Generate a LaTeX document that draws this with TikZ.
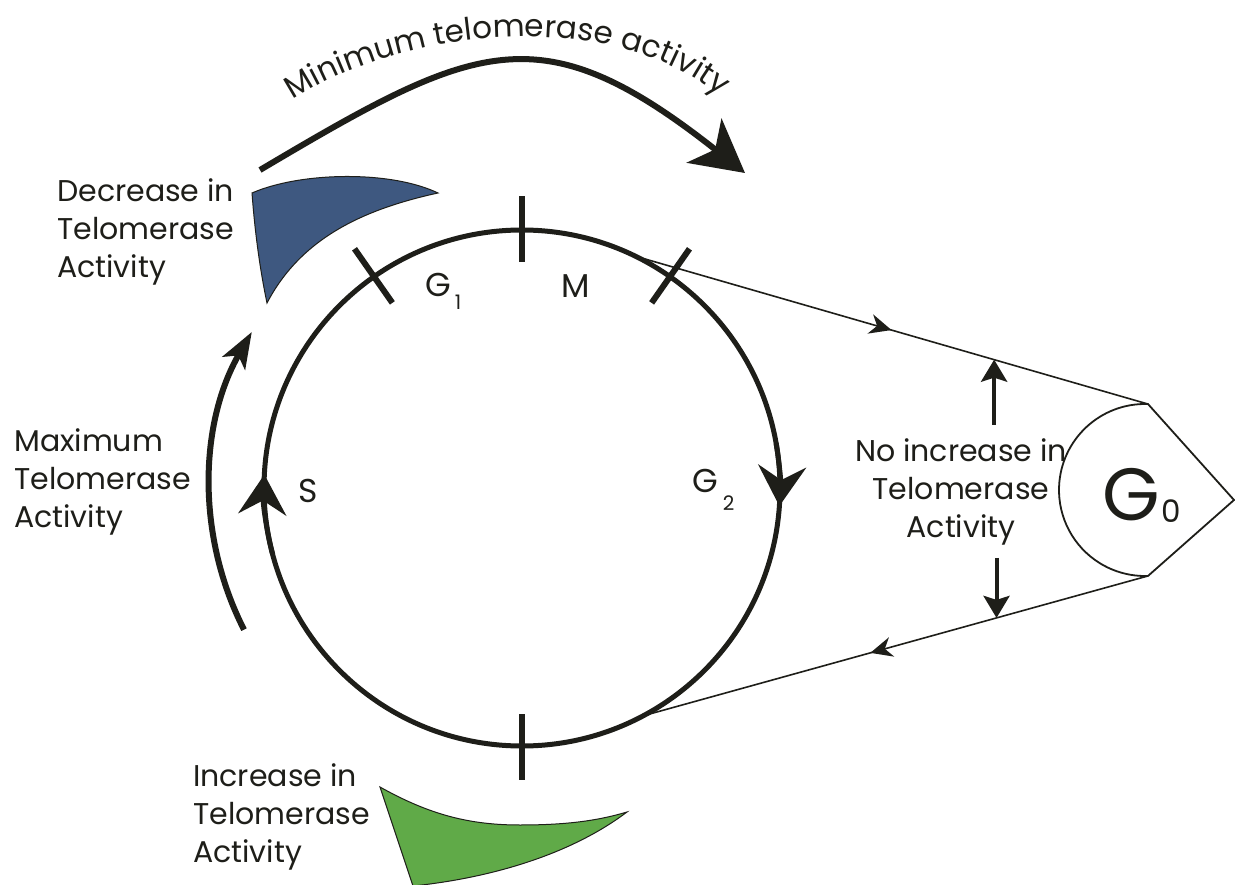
\documentclass[tikz,border=0pt]{standalone}
\usepackage{fontspec}
\setmainfont{Poppins}
\usetikzlibrary{arrows.meta,calc,decorations.markings,decorations.text}
\definecolor{decblue}{RGB}{62,88,128}
\definecolor{incgreen}{RGB}{96,170,72}
\definecolor{ink}{RGB}{30,30,25}
\begin{document}
\begin{tikzpicture}[x=1pt,y=1pt,
  cycleline/.style={line width=5pt, draw=ink},
  tickline/.style={line width=6pt, draw=ink},
  bigarrow/.style={line width=6pt, draw=ink},
  thinline/.style={line width=1.6pt, draw=ink},
  lbl/.style={font=\fontsize{30}{38}\selectfont, align=left, inner sep=0pt, text=ink},
  phase/.style={font=\fontsize{33}{36}\selectfont, inner sep=0pt, text=ink},
  midarrow/.style={decoration={markings, mark=at position #1 with {\arrow{Stealth[length=22pt,width=20pt,inset=7pt]}}}, postaction={decorate}},
]
\useasboundingbox (0,0) rectangle (1235,-885);
\fill[white] (0,0) rectangle (1235,-885);

% cell cycle
\node[circle, cycleline, minimum size=516pt, inner sep=0pt, outer sep=0pt] (cyc) at (522,-488) {};
\foreach \a in {125,90,55,270}
  \draw[tickline] ($(cyc.center)+(\a:226pt)$) -- ($(cyc.center)+(\a:292pt)$);
\draw[cycleline, -{Stealth[length=40pt,width=48pt,inset=14pt]}]
  ($(cyc.center)+(195:258pt)$) arc[start angle=195, end angle=177, radius=258pt];
\draw[cycleline, -{Stealth[length=40pt,width=48pt,inset=14pt]}]
  ($(cyc.center)+(10:258pt)$) arc[start angle=10, end angle=-4, radius=258pt];

% outer arrows
\coordinate (maxS) at ($(cyc.center)+(207:312pt)$);
\draw[bigarrow, -{Stealth[length=36pt,width=26pt,inset=9pt]}]
  (maxS) arc[start angle=207, end angle=150, radius=312pt];
\coordinate (minS) at (260,-170);
\coordinate (minE) at (745,-173);
\draw[bigarrow, -{Stealth[length=52pt,width=56pt,inset=14pt]}]
  (minS) .. controls (476,-42) and (540,-11) .. (minE);
\path[decorate, decoration={text along path, text align=center,
  text={|\fontsize{31}{36}\selectfont\color{ink}|Minimum telomerase activity}}]
  (288,-103) .. controls (390,-32) and (610,0) .. (724,-100);

% activity shapes
\draw[fill=decblue, draw=ink, line width=1pt]
  (252,-193) .. controls (300,-172) and (390,-170) .. (438,-193)
  .. controls (360,-210) and (300,-240) .. (267,-303)
  .. controls (258,-260) and (254,-220) .. cycle;
\draw[fill=incgreen, draw=ink, line width=1pt]
  (380,-787) .. controls (430,-815) and (470,-825) .. (520,-825)
  .. controls (570,-825) and (600,-820) .. (627,-812)
  .. controls (570,-855) and (490,-878) .. (413,-886) -- cycle;

% G0
\coordinate (g0c) at (1145,-490);
\draw[thinline, line width=1.8pt] ($(g0c)+(88:86pt)$) coordinate (g0top)
  arc[start angle=88, end angle=272, radius=86pt] coordinate (g0bot)
  -- (1234,-500) coordinate (g0tip) -- cycle;
\node[anchor=base west, inner sep=0pt, text=ink, font=\fontsize{74}{74}\selectfont] (g0lbl) at (1102,-520)
  {G\hspace{2pt}\raisebox{-2pt}{\fontsize{31}{31}\selectfont 0}};

% G0 connectors
\draw[thinline, midarrow=0.5] (cyc.64) -- (g0top);
\draw[thinline, midarrow=0.55] (g0bot) -- (cyc.-62);
\coordinate (uptip) at ($(cyc.64)!0.7!(g0top)$);
\coordinate (upbase) at ($(uptip)+(0,-65)$);
\draw[line width=4pt, draw=ink, -{Stealth[length=22pt,width=26pt,inset=4pt]}] (upbase) -- (uptip);
\coordinate (dntip) at ($(g0bot)!0.30!(cyc.-62)$);
\coordinate (dnbase) at ($(dntip)+(0,60)$);
\draw[line width=4pt, draw=ink, -{Stealth[length=22pt,width=26pt,inset=4pt]}] (dnbase) -- (dntip);

% labels (base anchor = baseline of last line)
\node[lbl, anchor=base west] (dec) at (57,-278) {Decrease in\\Telomerase\\Activity};
\node[lbl, anchor=base west] (max) at (14,-527) {Maximum\\Telomerase\\Activity};
\node[lbl, anchor=base west] (inc) at (193,-862) {Increase in\\Telomerase\\Activity};
\node[lbl, align=center, anchor=base] (noinc) at (961,-537) {No increase in\\Telomerase\\Activity};

\node[phase, anchor=base west] (g1) at (425,-297) {G\hspace{4pt}\raisebox{-13pt}{\fontsize{20}{20}\selectfont 1}};
\node[phase, anchor=base west] (m) at (561,-298) {M};
\node[phase, anchor=base west] (g2) at (692,-492) {G\hspace{5pt}\raisebox{-18pt}{\fontsize{20}{20}\selectfont 2}};
\node[phase] (s) at (308,-491) {S};
\end{tikzpicture}
\end{document}
